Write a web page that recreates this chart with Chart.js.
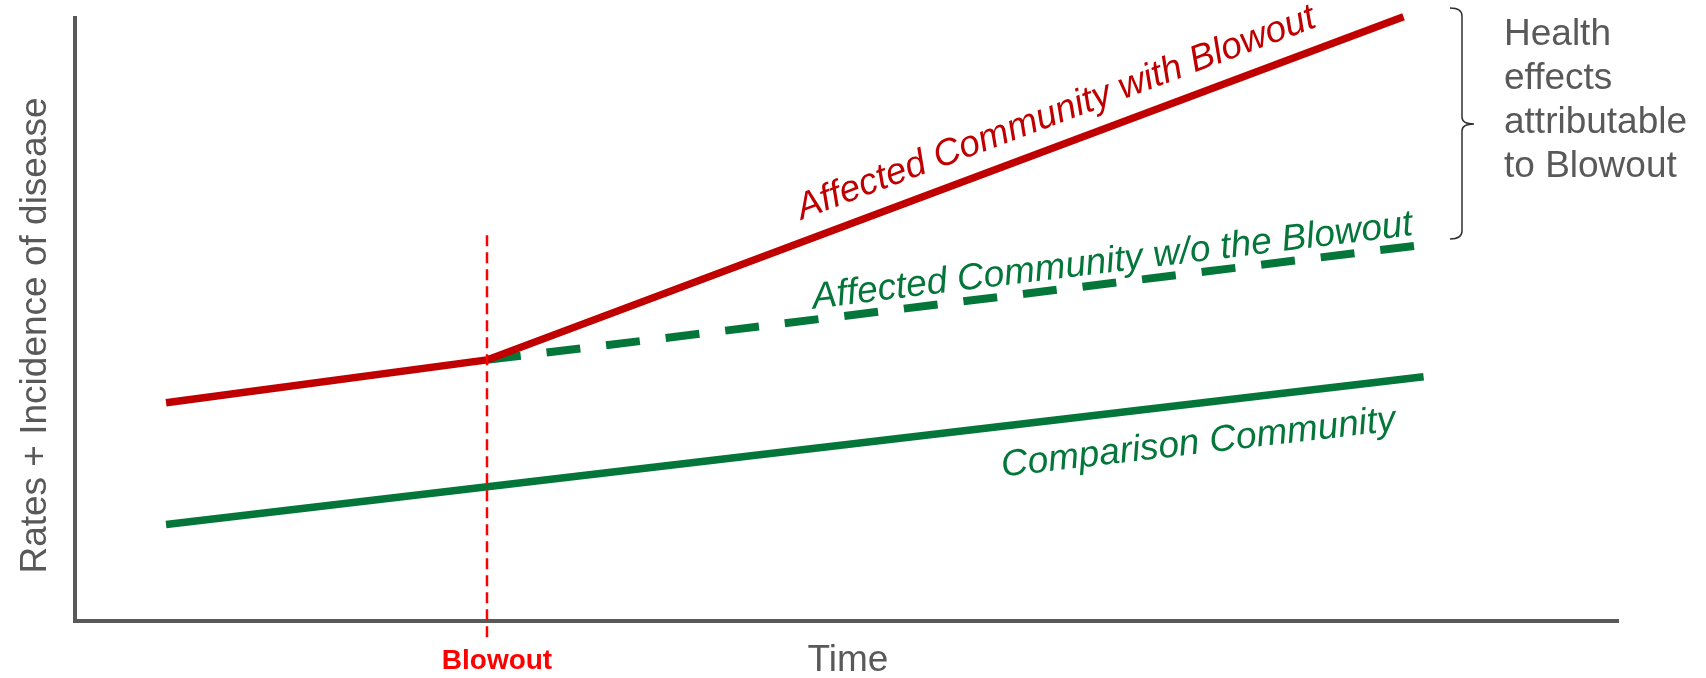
<!DOCTYPE html>
<html>
<head>
<meta charset="utf-8">
<script src="https://cdn.jsdelivr.net/npm/chart.js@4.4.1/dist/chart.umd.min.js"></script>
<style>
  html, body { margin: 0; padding: 0; background: #ffffff; }
  #wrap { width: 1706px; height: 678px; }
</style>
</head>
<body>
<div id="wrap"><canvas id="chart" width="1706" height="678"></canvas></div>
<script>
// Time runs on an arbitrary 0–100 scale, rates on an arbitrary 0–100 scale.
const timeWithBlowout = [5.9, 26.7, 86.1];
const rateWithBlowout = [36.2, 43.3, 100.2];

const timeWithoutBlowout = [26.7, 87.4];
const rateWithoutBlowout = [43.3, 62.4];

const timeComparison = [5.9, 87.4];
const rateComparison = [16.0, 40.5];

const blowoutTime = 26.7;
const blowoutMarkerRange = [-2.7, 64.2];

const seriesNames = [
  'Affected Community with Blowout',
  'Affected Community w/o the Blowout',
  'Comparison Community'
];
const blowoutLabel = 'Blowout';
const xAxisTitle = 'Time';
const yAxisTitle = 'Rates + Incidence of disease';
const bracketNote = ['Health', 'effects', 'attributable', 'to Blowout'];

const RED = '#c00000';
const GREEN = '#05763a';
const BRIGHT_RED = '#ff0000';
const GREY = '#595959';
const FONT = '"Liberation Sans", Arial, Helvetica, sans-serif';

const toPoints = (xs, ys) => xs.map((x, i) => ({ x: x, y: ys[i] }));

// Label placement along each series: x position of the label centre (data units)
// and perpendicular distance from the line (px, positive = above).
const lineLabels = [
  { dataset: 1, text: seriesNames[0], at: 64.3, offset: 21, color: RED },
  { dataset: 3, text: seriesNames[1], at: 67.4, offset: 11, color: GREEN },
  { dataset: 2, text: seriesNames[2], at: 72.5, offset: -50, color: GREEN }
];

const annotationPlugin = {
  id: 'annotations',
  afterDatasetsDraw(chart) {
    const ctx = chart.ctx;
    const xs = chart.scales.x;
    const ys = chart.scales.y;

    // Rotated series labels that follow their line
    lineLabels.forEach(lbl => {
      const pts = chart.data.datasets[lbl.dataset].data;
      let a = pts[0], b = pts[1];
      for (let i = 0; i < pts.length - 1; i++) {
        if (lbl.at >= pts[i].x && lbl.at <= pts[i + 1].x) { a = pts[i]; b = pts[i + 1]; }
      }
      const ax = xs.getPixelForValue(a.x), ay = ys.getPixelForValue(a.y);
      const bx = xs.getPixelForValue(b.x), by = ys.getPixelForValue(b.y);
      const px = xs.getPixelForValue(lbl.at);
      const py = ay + (by - ay) * (px - ax) / (bx - ax);
      const ang = Math.atan2(by - ay, bx - ax);
      ctx.save();
      ctx.translate(px, py);
      ctx.rotate(ang);
      ctx.font = 'italic 37px ' + FONT;
      ctx.fillStyle = lbl.color;
      ctx.textAlign = 'center';
      ctx.textBaseline = 'alphabetic';
      ctx.fillText(lbl.text, 0, -lbl.offset);
      ctx.restore();
    });
  },
  afterDraw(chart) {
    const ctx = chart.ctx;
    const area = chart.chartArea;
    const xs = chart.scales.x;

    // Axis titles
    ctx.save();
    ctx.fillStyle = GREY;
    ctx.font = '37px ' + FONT;
    ctx.textAlign = 'center';
    ctx.textBaseline = 'alphabetic';
    ctx.fillText(xAxisTitle, 848, area.bottom + 50);
    ctx.translate(area.left - 29, (area.top + area.bottom) / 2 + 16);
    ctx.rotate(-Math.PI / 2);
    ctx.fillText(yAxisTitle, 0, 0);
    ctx.restore();

    // Event label under the axis
    ctx.save();
    ctx.fillStyle = BRIGHT_RED;
    ctx.font = 'bold 28px ' + FONT;
    ctx.textAlign = 'center';
    ctx.fillText(blowoutLabel, xs.getPixelForValue(blowoutTime) + 10, area.bottom + 48);
    ctx.restore();

    // Curly bracket spanning the gap between the two affected-community lines
    const bx = 1462, top = 8, mid = 124, bot = 239;
    ctx.save();
    ctx.strokeStyle = '#303030';
    ctx.lineWidth = 1.5;
    ctx.beginPath();
    ctx.moveTo(bx - 12, top);
    ctx.quadraticCurveTo(bx, top, bx, top + 8);
    ctx.lineTo(bx, mid - 7);
    ctx.quadraticCurveTo(bx, mid, bx + 12, mid);
    ctx.quadraticCurveTo(bx, mid, bx, mid + 7);
    ctx.lineTo(bx, bot - 8);
    ctx.quadraticCurveTo(bx, bot, bx - 12, bot);
    ctx.stroke();
    ctx.restore();

    // Note beside the bracket
    ctx.save();
    ctx.fillStyle = GREY;
    ctx.font = '37px ' + FONT;
    ctx.textAlign = 'left';
    bracketNote.forEach((line, i) => ctx.fillText(line, 1504, 45 + i * 44));
    ctx.restore();
  }
};

new Chart(document.getElementById('chart'), {
  type: 'line',
  data: {
    datasets: [
      {
        label: blowoutLabel,
        data: toPoints([blowoutTime, blowoutTime], blowoutMarkerRange),
        borderColor: BRIGHT_RED,
        borderWidth: 2.5,
        borderDash: [11, 6],
        borderCapStyle: 'butt',
        pointRadius: 0,
        clip: false
      },
      {
        label: seriesNames[0],
        data: toPoints(timeWithBlowout, rateWithBlowout),
        borderColor: RED,
        borderWidth: 7.5,
        borderCapStyle: 'butt',
        borderJoinStyle: 'miter',
        pointRadius: 0,
        clip: false
      },
      {
        label: seriesNames[2],
        data: toPoints(timeComparison, rateComparison),
        borderColor: GREEN,
        borderWidth: 7.5,
        borderCapStyle: 'butt',
        pointRadius: 0,
        clip: false
      },
      {
        label: seriesNames[1],
        data: toPoints(timeWithoutBlowout, rateWithoutBlowout),
        borderColor: GREEN,
        borderWidth: 8,
        borderDash: [34, 26],
        borderCapStyle: 'butt',
        pointRadius: 0,
        clip: false
      }
    ]
  },
  options: {
    responsive: false,
    devicePixelRatio: 1,
    animation: false,
    layout: { padding: { left: 75, top: 18, right: 88, bottom: 57 } },
    plugins: { legend: { display: false }, tooltip: { enabled: false }, title: { display: false } },
    elements: { line: { tension: 0, fill: false } },
    scales: {
      x: {
        type: 'linear',
        min: 0,
        max: 100,
        grid: { display: false, drawTicks: false },
        ticks: { display: false },
        border: { display: true, color: GREY, width: 4 },
        afterFit(scale) { scale.height = 0; }
      },
      y: {
        type: 'linear',
        min: 0,
        max: 100,
        grid: { display: false, drawTicks: false },
        ticks: { display: false },
        border: { display: true, color: GREY, width: 4 },
        afterFit(scale) { scale.width = 0; }
      }
    }
  },
  plugins: [annotationPlugin]
});
</script>
</body>
</html>
